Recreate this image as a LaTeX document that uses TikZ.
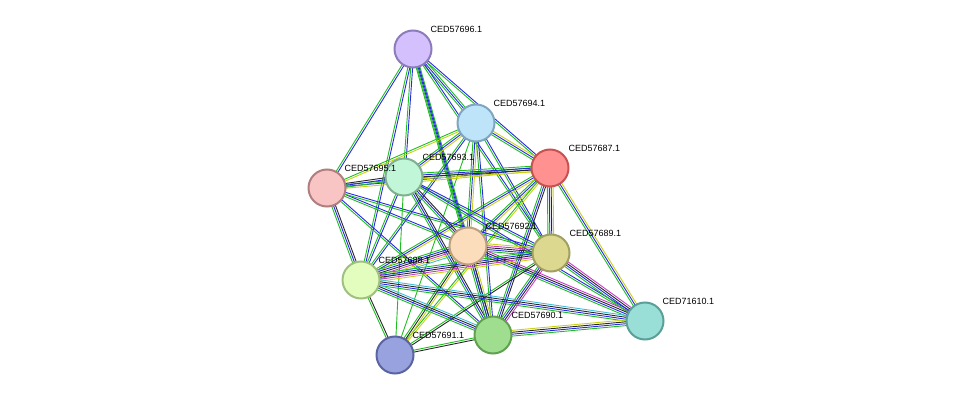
\documentclass[tikz,border=0pt]{standalone}
\usepackage{fontspec}
\setmainfont{Liberation Sans}
\usetikzlibrary{calc}
\definecolor{eg}{RGB}{30,190,30}
\definecolor{eb}{RGB}{40,40,230}
\definecolor{ek}{RGB}{40,40,40}
\definecolor{ey}{RGB}{200,210,20}
\definecolor{em}{RGB}{200,60,200}
\definecolor{ec}{RGB}{60,190,220}
\newcommand{\Edge}[3]{%
  \foreach \c [count=\i] in {#3} {\xdef\nE{\i}}%
  \foreach \c [count=\i] in {#3} {%
    \path let \p1=(#1), \p2=(#2), \n1={atan2(\y2-\y1,\x2-\x1)+90}, \n2={(\i-(\nE+1)/2)*1.9} in
      [draw=\c, line width=0.9pt] ($(#1.center)+(\n1:\n2 pt)$) -- ($(#2.center)+(\n1:\n2 pt)$);
  }}
\begin{document}
\begin{tikzpicture}[x=1pt,y=-1pt,
  nd/.style={circle, minimum size=37pt, inner sep=0pt, line width=2pt},
  lb/.style={font=\fontsize{9}{10}\selectfont, anchor=south west, inner sep=0.5pt}]
\useasboundingbox (0,0) rectangle (976,401);
\coordinate (n96) at (413,49);
\coordinate (n94) at (476,123);
\coordinate (n87) at (550,168);
\coordinate (n95) at (327,188);
\coordinate (n93) at (404,177);
\coordinate (n92) at (468,246);
\coordinate (n89) at (551,253);
\coordinate (n88) at (361,280);
\coordinate (n10) at (645,321);
\coordinate (n90) at (493,335);
\coordinate (n91) at (395,355);
\node[inner sep=0pt] (a96) at (n96) {};
\node[inner sep=0pt] (a94) at (n94) {};
\node[inner sep=0pt] (a87) at (n87) {};
\node[inner sep=0pt] (a95) at (n95) {};
\node[inner sep=0pt] (a93) at (n93) {};
\node[inner sep=0pt] (a92) at (n92) {};
\node[inner sep=0pt] (a89) at (n89) {};
\node[inner sep=0pt] (a88) at (n88) {};
\node[inner sep=0pt] (a10) at (n10) {};
\node[inner sep=0pt] (a90) at (n90) {};
\node[inner sep=0pt] (a91) at (n91) {};
% edges
\Edge{a96}{a94}{eg,eb,eg}
\Edge{a96}{a87}{eg,eb}
\Edge{a96}{a95}{eg,eb}
\Edge{a96}{a93}{eg,eb}
\Edge{a96}{a92}{eg,eb,eg}
\Edge{a96}{a88}{eg,eb}
\Edge{a96}{a90}{eg,eb}
\Edge{a96}{a89}{eg,eb}
\Edge{a94}{a87}{eg,eb,ey}
\Edge{a94}{a95}{eg,ey}
\Edge{a94}{a93}{eg,eb,ey}
\Edge{a94}{a92}{eg,eb,ey}
\Edge{a94}{a89}{eg,eb}
\Edge{a94}{a88}{eg,eb}
\Edge{a94}{a90}{eg,eb}
\Edge{a94}{a91}{eg}
\Edge{a87}{a95}{eg,eb,ey}
\Edge{a87}{a93}{eg,eb,ek,ey}
\Edge{a87}{a92}{eg,eb,ey}
\Edge{a87}{a89}{eg,eb,ek,ey}
\Edge{a87}{a88}{eg,eb,ey}
\Edge{a87}{a10}{eg,eb,ey}
\Edge{a87}{a90}{eg,eb,ek}
\Edge{a87}{a91}{eg,ey}
\Edge{a95}{a93}{eg,eb,ek}
\Edge{a95}{a92}{eg,eb}
\Edge{a95}{a89}{eg,eb}
\Edge{a95}{a88}{eg,eb,ek}
\Edge{a95}{a90}{eg,eb}
\Edge{a93}{a92}{eg,eb,ek}
\Edge{a93}{a89}{eg,eb}
\Edge{a93}{a88}{eg,eb}
\Edge{a93}{a90}{eg,eb,ek}
\Edge{a93}{a91}{eg}
\Edge{a93}{a10}{eg,eb}
\Edge{a92}{a89}{eg,eb,ek,em,ey}
\Edge{a92}{a88}{eg,eb,ek,em,ey,ec}
\Edge{a92}{a10}{eg,eb,ek,em}
\Edge{a92}{a90}{eg,eb,ek,ey}
\Edge{a92}{a91}{eg,ek,ey}
\Edge{a89}{a88}{eg,eb,ek,em,ey}
\Edge{a89}{a10}{eg,eb,ek,em}
\Edge{a89}{a90}{eg,eb,ek,em}
\Edge{a89}{a91}{eg,ek}
\Edge{a88}{a10}{eg,eb,ek,ec}
\Edge{a88}{a90}{eg,eb,ek,ec}
\Edge{a88}{a91}{eg,ek}
\Edge{a90}{a10}{eg,eb,ek,ey}
\Edge{a90}{a91}{eg,ek}
% nodes
\node[nd, fill={rgb,255:red,212;green,192;blue,252}, draw={rgb,255:red,140;green,124;blue,186}] (v96) at (n96) {};
\node[nd, fill={rgb,255:red,190;green,228;blue,249}, draw={rgb,255:red,126;green,166;blue,190}] (v94) at (n94) {};
\node[nd, fill={rgb,255:red,255;green,145;blue,145}, draw={rgb,255:red,200;green,82;blue,82}] (v87) at (n87) {};
\node[nd, fill={rgb,255:red,248;green,196;blue,196}, draw={rgb,255:red,176;green,126;blue,126}] (v95) at (n95) {};
\node[nd, fill={rgb,255:red,194;green,246;blue,216}, draw={rgb,255:red,128;green,176;blue,144}] (v93) at (n93) {};
\node[nd, fill={rgb,255:red,252;green,221;blue,187}, draw={rgb,255:red,188;green,160;blue,128}] (v92) at (n92) {};
\node[nd, fill={rgb,255:red,221;green,216;blue,144}, draw={rgb,255:red,160;green,160;blue,96}] (v89) at (n89) {};
\node[nd, fill={rgb,255:red,227;green,253;blue,191}, draw={rgb,255:red,160;green,192;blue,128}] (v88) at (n88) {};
\node[nd, fill={rgb,255:red,154;green,223;blue,215}, draw={rgb,255:red,90;green,160;blue,152}] (v10) at (n10) {};
\node[nd, fill={rgb,255:red,159;green,222;blue,142}, draw={rgb,255:red,96;green,160;blue,80}] (v90) at (n90) {};
\node[nd, fill={rgb,255:red,152;green,162;blue,222}, draw={rgb,255:red,90;green,100;blue,160}] (v91) at (n91) {};
% labels
\node[lb] (l96) at ($(n96)+(17,-16)$) {CED57696.1};
\node[lb] (l94) at ($(n94)+(17,-16)$) {CED57694.1};
\node[lb] (l87) at ($(n87)+(18,-16)$) {CED57687.1};
\node[lb] (l95) at ($(n95)+(17,-16)$) {CED57695.1};
\node[lb] (l93) at ($(n93)+(18,-16)$) {CED57693.1};
\node[lb] (l92) at ($(n92)+(17,-16)$) {CED57692.1};
\node[lb] (l89) at ($(n89)+(18,-16)$) {CED57689.1};
\node[lb] (l88) at ($(n88)+(17,-16)$) {CED57688.1};
\node[lb] (l10) at ($(n10)+(17,-16)$) {CED71610.1};
\node[lb] (l90) at ($(n90)+(18,-16)$) {CED57690.1};
\node[lb] (l91) at ($(n91)+(17,-16)$) {CED57691.1};
\end{tikzpicture}
\end{document}
